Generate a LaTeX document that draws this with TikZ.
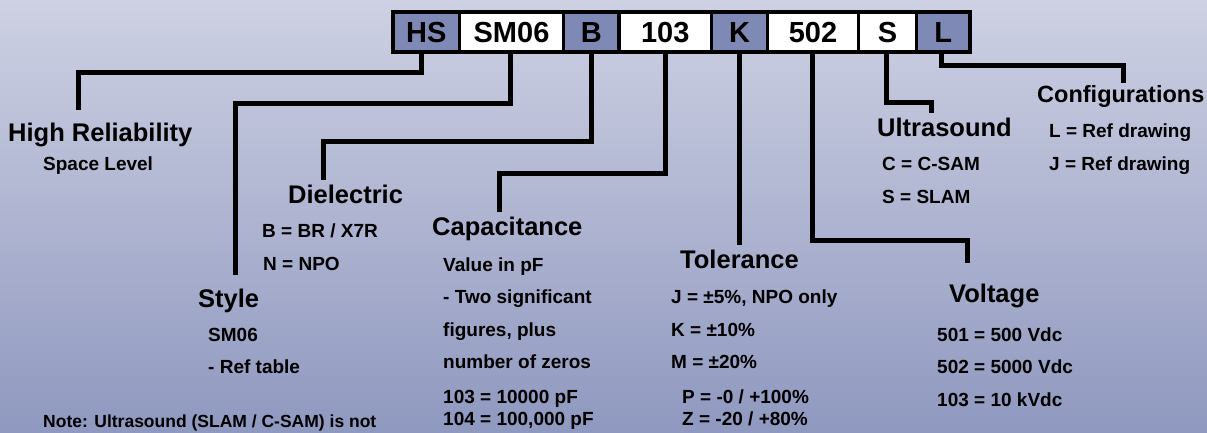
\documentclass[tikz,border=0pt]{standalone}
\usepackage{fontspec}
\setmainfont{Liberation Sans}
\definecolor{bgtop}{HTML}{CED1E3}
\definecolor{bgbot}{HTML}{8F98BF}
\definecolor{cellblue}{HTML}{7F89B5}
\begin{document}
\begin{tikzpicture}[x=1pt,y=-1pt,
  cell/.style={draw=black, line width=3.5pt, minimum height=39.5pt, inner sep=0pt, outer sep=0pt,
    font=\bfseries\fontsize{29}{29}\selectfont, text height=20.5pt, text depth=0pt},
  bluecell/.style={cell, fill=cellblue},
  whitecell/.style={cell, fill=white},
  conn/.style={draw=black, line width=5pt, line join=miter},
  head/.style={anchor=base west, inner sep=0pt, font=\bfseries\fontsize{25.5}{25.5}\selectfont},
  body/.style={anchor=base west, inner sep=0pt, font=\bfseries\fontsize{19}{19}\selectfont}]
\useasboundingbox (0,0) rectangle (1207,433);
\shade[top color=bgtop, bottom color=bgbot] (0,0) rectangle (1207,433);

% code cells
\node[bluecell, minimum width=66.5pt] (cHS) at (426.25,32.25) {HS};
\node[whitecell, minimum width=104pt] (cSM) at (511.5,32.25) {SM06};
\node[bluecell, minimum width=55.5pt] (cB) at (591.25,32.25) {B};
\node[whitecell, minimum width=92.5pt] (c103) at (665.25,32.25) {103};
\node[bluecell, minimum width=56pt] (cK) at (739.5,32.25) {K};
\node[whitecell, minimum width=91pt] (c502) at (813,32.25) {502};
\node[whitecell, minimum width=58pt] (cS) at (887.5,32.25) {S};
\node[bluecell, minimum width=53.5pt] (cL) at (943.25,32.25) {L};
\draw[line width=4pt] (cHS.north west) rectangle (cL.south east);

% labels
\node[head] (hHR) at (8,142) {High Reliability};
\node[body] (bHR) at (43,171) {Space Level};
\node[head] (hDi) at (288,203) {Dielectric};
\node[body] (bDi1) at (262,237) {B = BR / X7R};
\node[body] (bDi2) at (263,270) {N = NPO};
\node[head] (hSt) at (198,307) {Style};
\node[body] (bSt1) at (208,341) {SM06};
\node[body] (bSt2) at (208,373) {- Ref table};
\node[body, font=\bfseries\fontsize{17.5}{17.5}\selectfont] (note) at (43,427) {Note: Ultrasound (SLAM / C-SAM) is not};
\node[head] (hCa) at (432,235) {Capacitance};
\node[body] (bCa1) at (443,271) {Value in pF};
\node[body] (bCa2) at (443,303) {- Two significant};
\node[body] (bCa3) at (443,336) {figures, plus};
\node[body] (bCa4) at (443,368) {number of zeros};
\node[body] (bCa5) at (443,403) {103 = 10000 pF};
\node[body] (bCa6) at (443,425) {104 = 100,000 pF};
\node[head] (hTo) at (680,268) {Tolerance};
\node[body] (bTo1) at (671,303) {J = ±5\%, NPO only};
\node[body] (bTo2) at (671,336) {K = ±10\%};
\node[body] (bTo3) at (671,368) {M = ±20\%};
\node[body] (bTo4) at (682,403) {P = -0 / +100\%};
\node[body] (bTo5) at (682,425) {Z = -20 / +80\%};
\node[head] (hUl) at (877,137) {Ultrasound};
\node[body] (bUl1) at (882,171) {C = C-SAM};
\node[body] (bUl2) at (882,203) {S = SLAM};
\node[head, font=\bfseries\fontsize{23.5}{23.5}\selectfont] (hCo) at (1037,103) {Configurations};
\node[body] (bCo1) at (1049,138) {L = Ref drawing};
\node[body] (bCo2) at (1049,170) {J = Ref drawing};
\node[head] (hVo) at (949,302) {Voltage};
\node[body] (bVo1) at (937,341) {501 = 500 Vdc};
\node[body] (bVo2) at (937,373) {502 = 5000 Vdc};
\node[body] (bVo3) at (937,406) {103 = 10 kVdc};

% connector corners and ends
\coordinate (kHR) at (78,72.5);   \coordinate (eHR) at (78,110);
\coordinate (kSt) at (235,104);   \coordinate (eSt) at (235,275);
\coordinate (kDi) at (323,142);   \coordinate (eDi) at (323,180);
\coordinate (kCa) at (499,173);   \coordinate (eCa) at (499,212);
\coordinate (eTo) at (739.5,245);
\coordinate (kVo) at (967,240);   \coordinate (eVo) at (967,263);
\coordinate (kUl) at (931,103);   \coordinate (eUl) at (931,113);
\coordinate (kCo) at (1123,66);   \coordinate (eCo) at (1123,83);

\draw[conn] ([xshift=-5pt]cHS.south) |- (kHR) -- (eHR);
\draw[conn] ([xshift=-1.5pt]cSM.south) |- (kSt) -- (eSt);
\draw[conn] (cB.south) |- (kDi) -- (eDi);
\draw[conn] (c103.south) |- (kCa) -- (eCa);
\draw[conn] (cK.south) -- (eTo);
\draw[conn] ([xshift=-1pt]c502.south) |- (kVo) -- (eVo);
\draw[conn] ([xshift=-1.5pt]cS.south) |- (kUl) -- (eUl);
\draw[conn] ([xshift=-2pt]cL.south) |- (kCo) -- (eCo);
\end{tikzpicture}
\end{document}
